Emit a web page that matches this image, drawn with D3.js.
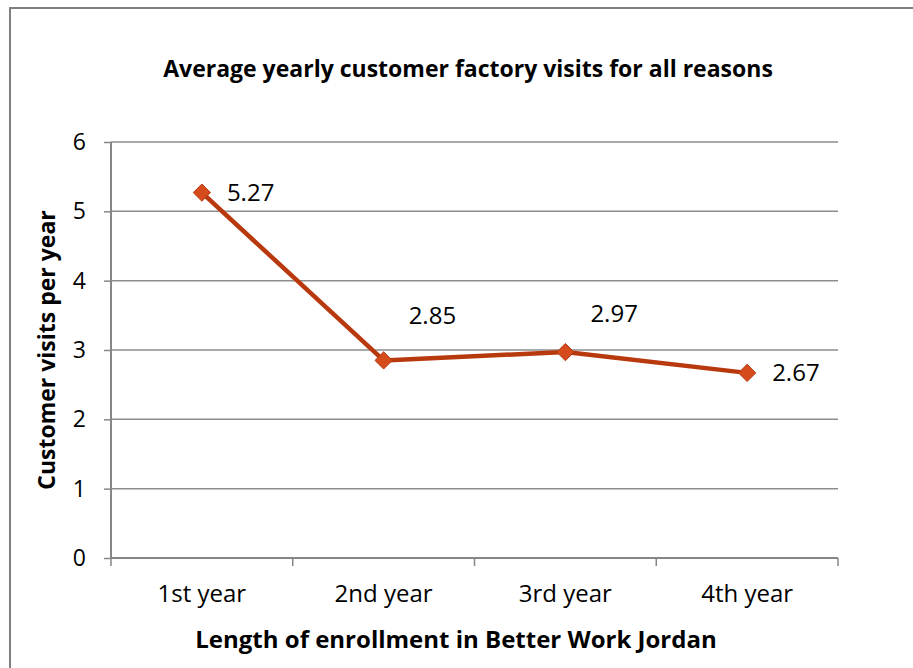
<!DOCTYPE html>
<html>
<head>
<meta charset="utf-8">
<script src="https://cdn.jsdelivr.net/npm/d3@7"></script>
<style>
  html, body { margin: 0; padding: 0; background: #fff; }
  svg { display: block; }
  text { font-family: "Open Sans", Lato, sans-serif; fill: #000; }
</style>
</head>
<body>
<svg id="chart" width="913" height="668"></svg>
<script>
// Average yearly customer factory visits, by length of enrollment
const categories = ["1st year", "2nd year", "3rd year", "4th year"];
const visits = [5.27, 2.85, 2.97, 2.67];
const yTicks = [0, 1, 2, 3, 4, 5, 6];
const chartTitle = "Average yearly customer factory visits for all reasons";
const xTitle = "Length of enrollment in Better Work Jordan";
const yTitle = "Customer visits per year";

const svg = d3.select("#chart");
const plot = { left: 111, right: 838, top: 142, bottom: 558 };

// outer frame (top and left edges visible)
svg.append("path")
  .attr("d", "M10,668 V8 H913")
  .attr("fill", "none")
  .attr("stroke", "#808080")
  .attr("stroke-width", 2);

const x = d3.scaleBand().domain(categories).range([plot.left, plot.right]);
const y = d3.scaleLinear().domain([0, 6]).range([plot.bottom, plot.top]);

// horizontal gridlines
svg.append("g")
  .selectAll("line")
  .data(yTicks.filter(d => d > 0))
  .join("line")
  .attr("x1", plot.left).attr("x2", plot.right)
  .attr("y1", d => y(d)).attr("y2", d => y(d))
  .attr("stroke", "#8c8c8c").attr("stroke-width", 1.5);

// y axis
const yAxis = svg.append("g")
  .attr("transform", `translate(${plot.left},0)`)
  .call(d3.axisLeft(y).tickValues(yTicks).tickSize(7).tickPadding(18).tickFormat(d3.format("d")));
yAxis.select(".domain").attr("stroke", "#868686").attr("stroke-width", 2)
  .attr("d", `M0,${plot.top}V${plot.bottom}`);
yAxis.selectAll(".tick line").attr("stroke", "#868686").attr("stroke-width", 1.5);
yAxis.selectAll(".tick text").style("font-size", "23px").attr("fill", "#000");

// x axis with ticks at category boundaries
const xAxisG = svg.append("g").attr("transform", `translate(0,${plot.bottom})`);
xAxisG.append("line")
  .attr("x1", plot.left).attr("x2", plot.right)
  .attr("stroke", "#868686").attr("stroke-width", 2);
const bounds = categories.map(c => x(c)).concat([x(categories[categories.length - 1]) + x.bandwidth()]);
xAxisG.selectAll("line.tk")
  .data(bounds)
  .join("line").attr("class", "tk")
  .attr("x1", d => d).attr("x2", d => d)
  .attr("y1", 0).attr("y2", 8)
  .attr("stroke", "#868686").attr("stroke-width", 1.5);
xAxisG.selectAll("text")
  .data(categories)
  .join("text")
  .attr("x", d => x(d) + x.bandwidth() / 2)
  .attr("y", 44)
  .attr("text-anchor", "middle")
  .style("font-size", "24px")
  .text(d => d);

// series line
const cx = (d, i) => x(categories[i]) + x.bandwidth() / 2;
svg.append("path")
  .datum(visits)
  .attr("d", d3.line().x(cx).y(d => y(d)))
  .attr("fill", "none")
  .attr("stroke", "#b8390e")
  .attr("stroke-width", 4.5)
  .attr("stroke-linejoin", "round");

// diamond markers
svg.append("g")
  .selectAll("path")
  .data(visits)
  .join("path")
  .attr("transform", (d, i) => `translate(${cx(d, i)},${y(d)})`)
  .attr("d", d3.symbol().type(d3.symbolDiamond2).size(190))
  .attr("fill", "#d64b1c")
  .attr("stroke", "#b13a12")
  .attr("stroke-width", 1);

// value labels
const labelLift = [0, 45, 38, 0];
svg.append("g")
  .selectAll("text")
  .data(visits)
  .join("text")
  .attr("x", (d, i) => cx(d, i) + 25)
  .attr("y", (d, i) => y(d) - labelLift[i])
  .attr("dy", "0.35em")
  .style("font-size", "24px")
  .text(d => d.toFixed(2));

// titles
svg.append("text")
  .attr("x", 468).attr("y", 77)
  .attr("text-anchor", "middle")
  .style("font-size", "23px").style("font-weight", "bold")
  .text(chartTitle);

svg.append("text")
  .attr("x", 456).attr("y", 648)
  .attr("text-anchor", "middle")
  .style("font-size", "24px").style("font-weight", "bold")
  .text(xTitle);

svg.append("text")
  .attr("transform", `translate(55,350) rotate(-90)`)
  .attr("text-anchor", "middle")
  .style("font-size", "23px").style("font-weight", "bold")
  .text(yTitle);
</script>
</body>
</html>
